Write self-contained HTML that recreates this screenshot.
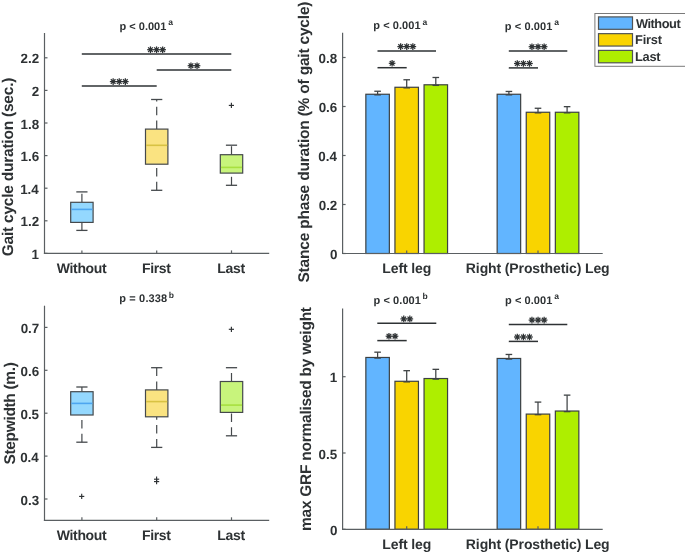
<!DOCTYPE html>
<html><head><meta charset="utf-8"><style>
html,body{margin:0;padding:0;background:#fff;width:685px;height:554px;overflow:hidden}
svg{display:block;will-change:transform}
text{font-family:"Liberation Sans", sans-serif;font-weight:bold;fill:#2e3234;text-rendering:geometricPrecision}
</style></head><body>
<svg width="685" height="554" viewBox="0 0 685 554">
<rect width="685" height="554" fill="#fff"/>
<line x1="81.9" y1="202.3" x2="81.9" y2="191.9" stroke="#45494c" stroke-width="1.2" stroke-dasharray="8.5,5.3"/>
<line x1="81.9" y1="230.4" x2="81.9" y2="222.4" stroke="#45494c" stroke-width="1.2" stroke-dasharray="8.5,5.3"/>
<line x1="76.3" y1="191.9" x2="87.5" y2="191.9" stroke="#45494c" stroke-width="1.3" />
<line x1="76.3" y1="230.4" x2="87.5" y2="230.4" stroke="#45494c" stroke-width="1.3" />
<rect x="70.7" y="202.3" width="22.4" height="20.1" fill="#94D8FE" stroke="#45494c" stroke-width="1.2"/>
<line x1="71.35" y1="209.4" x2="92.45" y2="209.4" stroke="#4DA6F0" stroke-width="1.6" />
<line x1="156.7" y1="129.1" x2="156.7" y2="99.5" stroke="#45494c" stroke-width="1.2" stroke-dasharray="8.5,5.3"/>
<line x1="156.7" y1="190.3" x2="156.7" y2="164.2" stroke="#45494c" stroke-width="1.2" stroke-dasharray="8.5,5.3"/>
<line x1="151.1" y1="99.5" x2="162.3" y2="99.5" stroke="#45494c" stroke-width="1.3" />
<line x1="151.1" y1="190.3" x2="162.3" y2="190.3" stroke="#45494c" stroke-width="1.3" />
<rect x="145.5" y="129.1" width="22.4" height="35.1" fill="#FAE381" stroke="#45494c" stroke-width="1.2"/>
<line x1="146.15" y1="145.3" x2="167.25" y2="145.3" stroke="#D8C243" stroke-width="1.6" />
<line x1="231.5" y1="154.7" x2="231.5" y2="145.2" stroke="#45494c" stroke-width="1.2" stroke-dasharray="8.5,5.3"/>
<line x1="231.5" y1="185.3" x2="231.5" y2="173.1" stroke="#45494c" stroke-width="1.2" stroke-dasharray="8.5,5.3"/>
<line x1="225.9" y1="145.2" x2="237.1" y2="145.2" stroke="#45494c" stroke-width="1.3" />
<line x1="225.9" y1="185.3" x2="237.1" y2="185.3" stroke="#45494c" stroke-width="1.3" />
<rect x="220.3" y="154.7" width="22.4" height="18.4" fill="#C8F47C" stroke="#45494c" stroke-width="1.2"/>
<line x1="220.95" y1="167.4" x2="242.05" y2="167.4" stroke="#A8E040" stroke-width="1.6" />
<line x1="228.8" y1="105.4" x2="234" y2="105.4" stroke="#2e3234" stroke-width="1.15" />
<line x1="231.4" y1="102.8" x2="231.4" y2="108" stroke="#2e3234" stroke-width="1.15" />
<line x1="44.5" y1="33" x2="44.5" y2="254" stroke="#5a5f62" stroke-width="1.2" />
<line x1="43.9" y1="253.4" x2="269.2" y2="253.4" stroke="#5a5f62" stroke-width="1.2" />
<line x1="44.5" y1="253.4" x2="47.5" y2="253.4" stroke="#5a5f62" stroke-width="1.2" />
<text x="31.62" y="259" font-size="13.4">1</text>
<line x1="44.5" y1="220.8" x2="47.5" y2="220.8" stroke="#5a5f62" stroke-width="1.2" />
<text x="20.61" y="226.4" font-size="13.4">1.2</text>
<line x1="44.5" y1="188.2" x2="47.5" y2="188.2" stroke="#5a5f62" stroke-width="1.2" />
<text x="20.14" y="193.8" font-size="13.4">1.4</text>
<line x1="44.5" y1="155.6" x2="47.5" y2="155.6" stroke="#5a5f62" stroke-width="1.2" />
<text x="20.56" y="161.2" font-size="13.4">1.6</text>
<line x1="44.5" y1="123" x2="47.5" y2="123" stroke="#5a5f62" stroke-width="1.2" />
<text x="20.48" y="128.6" font-size="13.4">1.8</text>
<line x1="44.5" y1="90.4" x2="47.5" y2="90.4" stroke="#5a5f62" stroke-width="1.2" />
<text x="31.78" y="96" font-size="13.4">2</text>
<line x1="44.5" y1="57.8" x2="47.5" y2="57.8" stroke="#5a5f62" stroke-width="1.2" />
<text x="20.61" y="63.4" font-size="13.4">2.2</text>
<line x1="81.9" y1="253.4" x2="81.9" y2="250.4" stroke="#5a5f62" stroke-width="1.2" />
<text x="56.69" y="272.7" font-size="14" letter-spacing="-0.316" >Without</text>
<line x1="156.7" y1="253.4" x2="156.7" y2="250.4" stroke="#5a5f62" stroke-width="1.2" />
<text x="141.96" y="272.7" font-size="14" letter-spacing="-0.333" >First</text>
<line x1="231.5" y1="253.4" x2="231.5" y2="250.4" stroke="#5a5f62" stroke-width="1.2" />
<text x="217.26" y="272.7" font-size="14" letter-spacing="-0.260" >Last</text>
<text x="-0.64" y="0" font-size="15.5" letter-spacing="-0.225" transform="translate(13,255.7) rotate(-90)">Gait cycle duration (sec.)</text>
<text x="119.57" y="29.9" font-size="11" letter-spacing="-0.006" >p &lt; 0.001</text>
<text x="168.25" y="25.2" font-size="8.5" >a</text>
<line x1="81.8" y1="54.1" x2="231.3" y2="54.1" stroke="#2e3234" stroke-width="1.5" />
<line x1="147.15" y1="49.7" x2="153.75" y2="49.7" stroke="#2e3234" stroke-width="1.25"/>
<line x1="148.12" y1="47.37" x2="152.78" y2="52.03" stroke="#2e3234" stroke-width="1.25"/>
<line x1="150.45" y1="46.4" x2="150.45" y2="53" stroke="#2e3234" stroke-width="1.25"/>
<line x1="152.78" y1="47.37" x2="148.12" y2="52.03" stroke="#2e3234" stroke-width="1.25"/>
<circle cx="150.45" cy="49.7" r="1.6" fill="#2e3234"/>
<line x1="153.25" y1="49.7" x2="159.85" y2="49.7" stroke="#2e3234" stroke-width="1.25"/>
<line x1="154.22" y1="47.37" x2="158.88" y2="52.03" stroke="#2e3234" stroke-width="1.25"/>
<line x1="156.55" y1="46.4" x2="156.55" y2="53" stroke="#2e3234" stroke-width="1.25"/>
<line x1="158.88" y1="47.37" x2="154.22" y2="52.03" stroke="#2e3234" stroke-width="1.25"/>
<circle cx="156.55" cy="49.7" r="1.6" fill="#2e3234"/>
<line x1="159.35" y1="49.7" x2="165.95" y2="49.7" stroke="#2e3234" stroke-width="1.25"/>
<line x1="160.32" y1="47.37" x2="164.98" y2="52.03" stroke="#2e3234" stroke-width="1.25"/>
<line x1="162.65" y1="46.4" x2="162.65" y2="53" stroke="#2e3234" stroke-width="1.25"/>
<line x1="164.98" y1="47.37" x2="160.32" y2="52.03" stroke="#2e3234" stroke-width="1.25"/>
<circle cx="162.65" cy="49.7" r="1.6" fill="#2e3234"/>
<line x1="156.7" y1="70.1" x2="231.3" y2="70.1" stroke="#2e3234" stroke-width="1.5" />
<line x1="187.65" y1="65.7" x2="194.25" y2="65.7" stroke="#2e3234" stroke-width="1.25"/>
<line x1="188.62" y1="63.37" x2="193.28" y2="68.03" stroke="#2e3234" stroke-width="1.25"/>
<line x1="190.95" y1="62.4" x2="190.95" y2="69" stroke="#2e3234" stroke-width="1.25"/>
<line x1="193.28" y1="63.37" x2="188.62" y2="68.03" stroke="#2e3234" stroke-width="1.25"/>
<circle cx="190.95" cy="65.7" r="1.6" fill="#2e3234"/>
<line x1="193.75" y1="65.7" x2="200.35" y2="65.7" stroke="#2e3234" stroke-width="1.25"/>
<line x1="194.72" y1="63.37" x2="199.38" y2="68.03" stroke="#2e3234" stroke-width="1.25"/>
<line x1="197.05" y1="62.4" x2="197.05" y2="69" stroke="#2e3234" stroke-width="1.25"/>
<line x1="199.38" y1="63.37" x2="194.72" y2="68.03" stroke="#2e3234" stroke-width="1.25"/>
<circle cx="197.05" cy="65.7" r="1.6" fill="#2e3234"/>
<line x1="81.8" y1="86" x2="156.7" y2="86" stroke="#2e3234" stroke-width="1.5" />
<line x1="109.85" y1="81.6" x2="116.45" y2="81.6" stroke="#2e3234" stroke-width="1.25"/>
<line x1="110.82" y1="79.27" x2="115.48" y2="83.93" stroke="#2e3234" stroke-width="1.25"/>
<line x1="113.15" y1="78.3" x2="113.15" y2="84.9" stroke="#2e3234" stroke-width="1.25"/>
<line x1="115.48" y1="79.27" x2="110.82" y2="83.93" stroke="#2e3234" stroke-width="1.25"/>
<circle cx="113.15" cy="81.6" r="1.6" fill="#2e3234"/>
<line x1="115.95" y1="81.6" x2="122.55" y2="81.6" stroke="#2e3234" stroke-width="1.25"/>
<line x1="116.92" y1="79.27" x2="121.58" y2="83.93" stroke="#2e3234" stroke-width="1.25"/>
<line x1="119.25" y1="78.3" x2="119.25" y2="84.9" stroke="#2e3234" stroke-width="1.25"/>
<line x1="121.58" y1="79.27" x2="116.92" y2="83.93" stroke="#2e3234" stroke-width="1.25"/>
<circle cx="119.25" cy="81.6" r="1.6" fill="#2e3234"/>
<line x1="122.05" y1="81.6" x2="128.65" y2="81.6" stroke="#2e3234" stroke-width="1.25"/>
<line x1="123.02" y1="79.27" x2="127.68" y2="83.93" stroke="#2e3234" stroke-width="1.25"/>
<line x1="125.35" y1="78.3" x2="125.35" y2="84.9" stroke="#2e3234" stroke-width="1.25"/>
<line x1="127.68" y1="79.27" x2="123.02" y2="83.93" stroke="#2e3234" stroke-width="1.25"/>
<circle cx="125.35" cy="81.6" r="1.6" fill="#2e3234"/>
<line x1="81.9" y1="391.7" x2="81.9" y2="387" stroke="#45494c" stroke-width="1.2" stroke-dasharray="8.5,5.3"/>
<line x1="81.9" y1="442.2" x2="81.9" y2="415" stroke="#45494c" stroke-width="1.2" stroke-dasharray="8.5,5.3"/>
<line x1="76.3" y1="387" x2="87.5" y2="387" stroke="#45494c" stroke-width="1.3" />
<line x1="76.3" y1="442.2" x2="87.5" y2="442.2" stroke="#45494c" stroke-width="1.3" />
<rect x="70.7" y="391.7" width="22.4" height="23.3" fill="#94D8FE" stroke="#45494c" stroke-width="1.2"/>
<line x1="71.35" y1="403.4" x2="92.45" y2="403.4" stroke="#4DA6F0" stroke-width="1.6" />
<line x1="156.7" y1="389.9" x2="156.7" y2="367.7" stroke="#45494c" stroke-width="1.2" stroke-dasharray="8.5,5.3"/>
<line x1="156.7" y1="447.4" x2="156.7" y2="416.8" stroke="#45494c" stroke-width="1.2" stroke-dasharray="8.5,5.3"/>
<line x1="151.1" y1="367.7" x2="162.3" y2="367.7" stroke="#45494c" stroke-width="1.3" />
<line x1="151.1" y1="447.4" x2="162.3" y2="447.4" stroke="#45494c" stroke-width="1.3" />
<rect x="145.5" y="389.9" width="22.4" height="26.9" fill="#FAE381" stroke="#45494c" stroke-width="1.2"/>
<line x1="146.15" y1="401.6" x2="167.25" y2="401.6" stroke="#D8C243" stroke-width="1.6" />
<line x1="231.5" y1="381.5" x2="231.5" y2="367.7" stroke="#45494c" stroke-width="1.2" stroke-dasharray="8.5,5.3"/>
<line x1="231.5" y1="435.8" x2="231.5" y2="412.4" stroke="#45494c" stroke-width="1.2" stroke-dasharray="8.5,5.3"/>
<line x1="225.9" y1="367.7" x2="237.1" y2="367.7" stroke="#45494c" stroke-width="1.3" />
<line x1="225.9" y1="435.8" x2="237.1" y2="435.8" stroke="#45494c" stroke-width="1.3" />
<rect x="220.3" y="381.5" width="22.4" height="30.9" fill="#C8F47C" stroke="#45494c" stroke-width="1.2"/>
<line x1="220.95" y1="405.1" x2="242.05" y2="405.1" stroke="#A8E040" stroke-width="1.6" />
<line x1="79.1" y1="496.4" x2="84.3" y2="496.4" stroke="#2e3234" stroke-width="1.15" />
<line x1="81.7" y1="493.8" x2="81.7" y2="499" stroke="#2e3234" stroke-width="1.15" />
<line x1="154" y1="479.2" x2="159.2" y2="479.2" stroke="#2e3234" stroke-width="1.15" />
<line x1="156.6" y1="476.6" x2="156.6" y2="481.8" stroke="#2e3234" stroke-width="1.15" />
<line x1="154" y1="481.6" x2="159.2" y2="481.6" stroke="#2e3234" stroke-width="1.15" />
<line x1="156.6" y1="479" x2="156.6" y2="484.2" stroke="#2e3234" stroke-width="1.15" />
<line x1="228.8" y1="329.3" x2="234" y2="329.3" stroke="#2e3234" stroke-width="1.15" />
<line x1="231.4" y1="326.7" x2="231.4" y2="331.9" stroke="#2e3234" stroke-width="1.15" />
<line x1="44.5" y1="305.7" x2="44.5" y2="520.9" stroke="#5a5f62" stroke-width="1.2" />
<line x1="43.9" y1="520.3" x2="269.2" y2="520.3" stroke="#5a5f62" stroke-width="1.2" />
<line x1="44.5" y1="499" x2="47.5" y2="499" stroke="#5a5f62" stroke-width="1.2" />
<text x="20.56" y="504.6" font-size="13.4">0.3</text>
<line x1="44.5" y1="456.1" x2="47.5" y2="456.1" stroke="#5a5f62" stroke-width="1.2" />
<text x="20.14" y="461.7" font-size="13.4">0.4</text>
<line x1="44.5" y1="413.2" x2="47.5" y2="413.2" stroke="#5a5f62" stroke-width="1.2" />
<text x="20.45" y="418.8" font-size="13.4">0.5</text>
<line x1="44.5" y1="370.3" x2="47.5" y2="370.3" stroke="#5a5f62" stroke-width="1.2" />
<text x="20.56" y="375.9" font-size="13.4">0.6</text>
<line x1="44.5" y1="327.4" x2="47.5" y2="327.4" stroke="#5a5f62" stroke-width="1.2" />
<text x="20.66" y="333" font-size="13.4">0.7</text>
<line x1="81.9" y1="520.3" x2="81.9" y2="517.3" stroke="#5a5f62" stroke-width="1.2" />
<text x="56.69" y="539.6" font-size="14" letter-spacing="-0.316" >Without</text>
<line x1="156.7" y1="520.3" x2="156.7" y2="517.3" stroke="#5a5f62" stroke-width="1.2" />
<text x="141.96" y="539.6" font-size="14" letter-spacing="-0.333" >First</text>
<line x1="231.5" y1="520.3" x2="231.5" y2="517.3" stroke="#5a5f62" stroke-width="1.2" />
<text x="217.26" y="539.6" font-size="14" letter-spacing="-0.260" >Last</text>
<text x="-0.45" y="0" font-size="15.5" letter-spacing="-0.334" transform="translate(15,464.1) rotate(-90)">Stepwidth (m.)</text>
<text x="119.27" y="302.4" font-size="11" letter-spacing="0.148" >p = 0.338</text>
<text x="168.84" y="297.7" font-size="8.5" >b</text>
<rect x="365.85" y="94.25" width="23.5" height="159.25" fill="#62B5FF" stroke="#3c4042" stroke-width="1.2"/>
<rect x="394.95" y="87.27" width="23.5" height="166.23" fill="#F9D400" stroke="#3c4042" stroke-width="1.2"/>
<rect x="424.05" y="84.79" width="23.5" height="168.71" fill="#AEEE00" stroke="#3c4042" stroke-width="1.2"/>
<rect x="497.15" y="94.25" width="23.5" height="159.25" fill="#62B5FF" stroke="#3c4042" stroke-width="1.2"/>
<rect x="526.25" y="112.26" width="23.5" height="141.24" fill="#F9D400" stroke="#3c4042" stroke-width="1.2"/>
<rect x="555.35" y="112.26" width="23.5" height="141.24" fill="#AEEE00" stroke="#3c4042" stroke-width="1.2"/>
<line x1="377.6" y1="91.25" x2="377.6" y2="94.25" stroke="#3f4345" stroke-width="1.25" />
<line x1="374.3" y1="91.25" x2="380.9" y2="91.25" stroke="#3f4345" stroke-width="1.3" />
<line x1="374.3" y1="94.85" x2="380.9" y2="94.85" stroke="#3f4345" stroke-width="1.3" />
<line x1="406.7" y1="79.77" x2="406.7" y2="87.27" stroke="#3f4345" stroke-width="1.25" />
<line x1="403.4" y1="79.77" x2="410" y2="79.77" stroke="#3f4345" stroke-width="1.3" />
<line x1="403.4" y1="87.87" x2="410" y2="87.87" stroke="#3f4345" stroke-width="1.3" />
<line x1="435.8" y1="77.49" x2="435.8" y2="84.79" stroke="#3f4345" stroke-width="1.25" />
<line x1="432.5" y1="77.49" x2="439.1" y2="77.49" stroke="#3f4345" stroke-width="1.3" />
<line x1="432.5" y1="85.39" x2="439.1" y2="85.39" stroke="#3f4345" stroke-width="1.3" />
<line x1="508.9" y1="91.45" x2="508.9" y2="94.25" stroke="#3f4345" stroke-width="1.25" />
<line x1="505.6" y1="91.45" x2="512.2" y2="91.45" stroke="#3f4345" stroke-width="1.3" />
<line x1="505.6" y1="94.85" x2="512.2" y2="94.85" stroke="#3f4345" stroke-width="1.3" />
<line x1="538" y1="108.26" x2="538" y2="112.26" stroke="#3f4345" stroke-width="1.25" />
<line x1="534.7" y1="108.26" x2="541.3" y2="108.26" stroke="#3f4345" stroke-width="1.3" />
<line x1="534.7" y1="112.86" x2="541.3" y2="112.86" stroke="#3f4345" stroke-width="1.3" />
<line x1="567.1" y1="106.66" x2="567.1" y2="112.26" stroke="#3f4345" stroke-width="1.25" />
<line x1="563.8" y1="106.66" x2="570.4" y2="106.66" stroke="#3f4345" stroke-width="1.3" />
<line x1="563.8" y1="112.86" x2="570.4" y2="112.86" stroke="#3f4345" stroke-width="1.3" />
<line x1="342.6" y1="32.8" x2="342.6" y2="254.1" stroke="#5a5f62" stroke-width="1.2" />
<line x1="342" y1="253.5" x2="602.7" y2="253.5" stroke="#5a5f62" stroke-width="1.2" />
<line x1="342.6" y1="253.5" x2="345.6" y2="253.5" stroke="#5a5f62" stroke-width="1.2" />
<text x="329.9" y="259.1" font-size="13.4">0</text>
<line x1="342.6" y1="204.5" x2="345.6" y2="204.5" stroke="#5a5f62" stroke-width="1.2" />
<text x="318.71" y="210.1" font-size="13.4">0.2</text>
<line x1="342.6" y1="155.5" x2="345.6" y2="155.5" stroke="#5a5f62" stroke-width="1.2" />
<text x="318.24" y="161.1" font-size="13.4">0.4</text>
<line x1="342.6" y1="106.5" x2="345.6" y2="106.5" stroke="#5a5f62" stroke-width="1.2" />
<text x="318.66" y="112.1" font-size="13.4">0.6</text>
<line x1="342.6" y1="57.5" x2="345.6" y2="57.5" stroke="#5a5f62" stroke-width="1.2" />
<text x="318.58" y="63.1" font-size="13.4">0.8</text>
<line x1="406.7" y1="253.5" x2="406.7" y2="250.5" stroke="#5a5f62" stroke-width="1.2" />
<text x="382.36" y="272.8" font-size="14" letter-spacing="-0.115" >Left leg</text>
<line x1="538" y1="253.5" x2="538" y2="250.5" stroke="#5a5f62" stroke-width="1.2" />
<text x="465.86" y="272.8" font-size="14" letter-spacing="-0.117" >Right (Prosthetic) Leg</text>
<text x="-0.45" y="0" font-size="15.5" letter-spacing="-0.198" transform="translate(309.3,282.1) rotate(-90)">Stance phase duration (% of gait cycle)</text>
<text x="373.27" y="29.3" font-size="11" letter-spacing="0.069" >p &lt; 0.001</text>
<text x="422.55" y="24.6" font-size="8.5" >a</text>
<text x="504.87" y="29.5" font-size="11" letter-spacing="0.081" >p &lt; 0.001</text>
<text x="554.25" y="24.8" font-size="8.5" >a</text>
<line x1="377.5" y1="51" x2="436" y2="51" stroke="#2e3234" stroke-width="1.5" />
<line x1="397.35" y1="46.6" x2="403.95" y2="46.6" stroke="#2e3234" stroke-width="1.25"/>
<line x1="398.32" y1="44.27" x2="402.98" y2="48.93" stroke="#2e3234" stroke-width="1.25"/>
<line x1="400.65" y1="43.3" x2="400.65" y2="49.9" stroke="#2e3234" stroke-width="1.25"/>
<line x1="402.98" y1="44.27" x2="398.32" y2="48.93" stroke="#2e3234" stroke-width="1.25"/>
<circle cx="400.65" cy="46.6" r="1.6" fill="#2e3234"/>
<line x1="403.45" y1="46.6" x2="410.05" y2="46.6" stroke="#2e3234" stroke-width="1.25"/>
<line x1="404.42" y1="44.27" x2="409.08" y2="48.93" stroke="#2e3234" stroke-width="1.25"/>
<line x1="406.75" y1="43.3" x2="406.75" y2="49.9" stroke="#2e3234" stroke-width="1.25"/>
<line x1="409.08" y1="44.27" x2="404.42" y2="48.93" stroke="#2e3234" stroke-width="1.25"/>
<circle cx="406.75" cy="46.6" r="1.6" fill="#2e3234"/>
<line x1="409.55" y1="46.6" x2="416.15" y2="46.6" stroke="#2e3234" stroke-width="1.25"/>
<line x1="410.52" y1="44.27" x2="415.18" y2="48.93" stroke="#2e3234" stroke-width="1.25"/>
<line x1="412.85" y1="43.3" x2="412.85" y2="49.9" stroke="#2e3234" stroke-width="1.25"/>
<line x1="415.18" y1="44.27" x2="410.52" y2="48.93" stroke="#2e3234" stroke-width="1.25"/>
<circle cx="412.85" cy="46.6" r="1.6" fill="#2e3234"/>
<line x1="377.5" y1="67.7" x2="406.7" y2="67.7" stroke="#2e3234" stroke-width="1.5" />
<line x1="388.8" y1="63.3" x2="395.4" y2="63.3" stroke="#2e3234" stroke-width="1.25"/>
<line x1="389.77" y1="60.97" x2="394.43" y2="65.63" stroke="#2e3234" stroke-width="1.25"/>
<line x1="392.1" y1="60" x2="392.1" y2="66.6" stroke="#2e3234" stroke-width="1.25"/>
<line x1="394.43" y1="60.97" x2="389.77" y2="65.63" stroke="#2e3234" stroke-width="1.25"/>
<circle cx="392.1" cy="63.3" r="1.6" fill="#2e3234"/>
<line x1="508.8" y1="51.1" x2="567.3" y2="51.1" stroke="#2e3234" stroke-width="1.5" />
<line x1="528.65" y1="46.7" x2="535.25" y2="46.7" stroke="#2e3234" stroke-width="1.25"/>
<line x1="529.62" y1="44.37" x2="534.28" y2="49.03" stroke="#2e3234" stroke-width="1.25"/>
<line x1="531.95" y1="43.4" x2="531.95" y2="50" stroke="#2e3234" stroke-width="1.25"/>
<line x1="534.28" y1="44.37" x2="529.62" y2="49.03" stroke="#2e3234" stroke-width="1.25"/>
<circle cx="531.95" cy="46.7" r="1.6" fill="#2e3234"/>
<line x1="534.75" y1="46.7" x2="541.35" y2="46.7" stroke="#2e3234" stroke-width="1.25"/>
<line x1="535.72" y1="44.37" x2="540.38" y2="49.03" stroke="#2e3234" stroke-width="1.25"/>
<line x1="538.05" y1="43.4" x2="538.05" y2="50" stroke="#2e3234" stroke-width="1.25"/>
<line x1="540.38" y1="44.37" x2="535.72" y2="49.03" stroke="#2e3234" stroke-width="1.25"/>
<circle cx="538.05" cy="46.7" r="1.6" fill="#2e3234"/>
<line x1="540.85" y1="46.7" x2="547.45" y2="46.7" stroke="#2e3234" stroke-width="1.25"/>
<line x1="541.82" y1="44.37" x2="546.48" y2="49.03" stroke="#2e3234" stroke-width="1.25"/>
<line x1="544.15" y1="43.4" x2="544.15" y2="50" stroke="#2e3234" stroke-width="1.25"/>
<line x1="546.48" y1="44.37" x2="541.82" y2="49.03" stroke="#2e3234" stroke-width="1.25"/>
<circle cx="544.15" cy="46.7" r="1.6" fill="#2e3234"/>
<line x1="508.8" y1="67.9" x2="538" y2="67.9" stroke="#2e3234" stroke-width="1.5" />
<line x1="514" y1="63.5" x2="520.6" y2="63.5" stroke="#2e3234" stroke-width="1.25"/>
<line x1="514.97" y1="61.17" x2="519.63" y2="65.83" stroke="#2e3234" stroke-width="1.25"/>
<line x1="517.3" y1="60.2" x2="517.3" y2="66.8" stroke="#2e3234" stroke-width="1.25"/>
<line x1="519.63" y1="61.17" x2="514.97" y2="65.83" stroke="#2e3234" stroke-width="1.25"/>
<circle cx="517.3" cy="63.5" r="1.6" fill="#2e3234"/>
<line x1="520.1" y1="63.5" x2="526.7" y2="63.5" stroke="#2e3234" stroke-width="1.25"/>
<line x1="521.07" y1="61.17" x2="525.73" y2="65.83" stroke="#2e3234" stroke-width="1.25"/>
<line x1="523.4" y1="60.2" x2="523.4" y2="66.8" stroke="#2e3234" stroke-width="1.25"/>
<line x1="525.73" y1="61.17" x2="521.07" y2="65.83" stroke="#2e3234" stroke-width="1.25"/>
<circle cx="523.4" cy="63.5" r="1.6" fill="#2e3234"/>
<line x1="526.2" y1="63.5" x2="532.8" y2="63.5" stroke="#2e3234" stroke-width="1.25"/>
<line x1="527.17" y1="61.17" x2="531.83" y2="65.83" stroke="#2e3234" stroke-width="1.25"/>
<line x1="529.5" y1="60.2" x2="529.5" y2="66.8" stroke="#2e3234" stroke-width="1.25"/>
<line x1="531.83" y1="61.17" x2="527.17" y2="65.83" stroke="#2e3234" stroke-width="1.25"/>
<circle cx="529.5" cy="63.5" r="1.6" fill="#2e3234"/>
<rect x="365.85" y="357.47" width="23.5" height="171.83" fill="#62B5FF" stroke="#3c4042" stroke-width="1.2"/>
<rect x="394.95" y="381.28" width="23.5" height="148.02" fill="#F9D400" stroke="#3c4042" stroke-width="1.2"/>
<rect x="424.05" y="378.53" width="23.5" height="150.77" fill="#AEEE00" stroke="#3c4042" stroke-width="1.2"/>
<rect x="497.15" y="358.46" width="23.5" height="170.84" fill="#62B5FF" stroke="#3c4042" stroke-width="1.2"/>
<rect x="526.25" y="414.09" width="23.5" height="115.21" fill="#F9D400" stroke="#3c4042" stroke-width="1.2"/>
<rect x="555.35" y="411.03" width="23.5" height="118.26" fill="#AEEE00" stroke="#3c4042" stroke-width="1.2"/>
<line x1="377.6" y1="352.17" x2="377.6" y2="357.47" stroke="#3f4345" stroke-width="1.25" />
<line x1="374.3" y1="352.17" x2="380.9" y2="352.17" stroke="#3f4345" stroke-width="1.3" />
<line x1="374.3" y1="358.07" x2="380.9" y2="358.07" stroke="#3f4345" stroke-width="1.3" />
<line x1="406.7" y1="370.68" x2="406.7" y2="381.28" stroke="#3f4345" stroke-width="1.25" />
<line x1="403.4" y1="370.68" x2="410" y2="370.68" stroke="#3f4345" stroke-width="1.3" />
<line x1="403.4" y1="381.88" x2="410" y2="381.88" stroke="#3f4345" stroke-width="1.3" />
<line x1="435.8" y1="369.33" x2="435.8" y2="378.53" stroke="#3f4345" stroke-width="1.25" />
<line x1="432.5" y1="369.33" x2="439.1" y2="369.33" stroke="#3f4345" stroke-width="1.3" />
<line x1="432.5" y1="379.13" x2="439.1" y2="379.13" stroke="#3f4345" stroke-width="1.3" />
<line x1="508.9" y1="354.46" x2="508.9" y2="358.46" stroke="#3f4345" stroke-width="1.25" />
<line x1="505.6" y1="354.46" x2="512.2" y2="354.46" stroke="#3f4345" stroke-width="1.3" />
<line x1="505.6" y1="359.06" x2="512.2" y2="359.06" stroke="#3f4345" stroke-width="1.3" />
<line x1="538" y1="402.09" x2="538" y2="414.09" stroke="#3f4345" stroke-width="1.25" />
<line x1="534.7" y1="402.09" x2="541.3" y2="402.09" stroke="#3f4345" stroke-width="1.3" />
<line x1="534.7" y1="414.69" x2="541.3" y2="414.69" stroke="#3f4345" stroke-width="1.3" />
<line x1="567.1" y1="395.13" x2="567.1" y2="411.03" stroke="#3f4345" stroke-width="1.25" />
<line x1="563.8" y1="395.13" x2="570.4" y2="395.13" stroke="#3f4345" stroke-width="1.3" />
<line x1="563.8" y1="411.63" x2="570.4" y2="411.63" stroke="#3f4345" stroke-width="1.3" />
<line x1="342.6" y1="308.5" x2="342.6" y2="529.9" stroke="#5a5f62" stroke-width="1.2" />
<line x1="342" y1="529.3" x2="602.7" y2="529.3" stroke="#5a5f62" stroke-width="1.2" />
<line x1="342.6" y1="529.3" x2="345.6" y2="529.3" stroke="#5a5f62" stroke-width="1.2" />
<text x="329.9" y="534.9" font-size="13.4">0</text>
<line x1="342.6" y1="453" x2="345.6" y2="453" stroke="#5a5f62" stroke-width="1.2" />
<text x="318.55" y="458.6" font-size="13.4">0.5</text>
<line x1="342.6" y1="376.7" x2="345.6" y2="376.7" stroke="#5a5f62" stroke-width="1.2" />
<text x="329.72" y="382.3" font-size="13.4">1</text>
<line x1="406.7" y1="529.3" x2="406.7" y2="526.3" stroke="#5a5f62" stroke-width="1.2" />
<text x="382.36" y="548.6" font-size="14" letter-spacing="-0.115" >Left leg</text>
<line x1="538" y1="529.3" x2="538" y2="526.3" stroke="#5a5f62" stroke-width="1.2" />
<text x="465.86" y="548.6" font-size="14" letter-spacing="-0.117" >Right (Prosthetic) Leg</text>
<text x="-1.02" y="0" font-size="15.5" letter-spacing="-0.252" transform="translate(310.8,530) rotate(-90)">max GRF normalised by weight</text>
<text x="373.47" y="304" font-size="11" letter-spacing="0.081" >p &lt; 0.001</text>
<text x="422.54" y="299.3" font-size="8.5" >b</text>
<text x="505.07" y="303.6" font-size="11" letter-spacing="0.056" >p &lt; 0.001</text>
<text x="554.25" y="298.9" font-size="8.5" >a</text>
<line x1="377.3" y1="323.3" x2="436.3" y2="323.3" stroke="#2e3234" stroke-width="1.5" />
<line x1="400.45" y1="318.9" x2="407.05" y2="318.9" stroke="#2e3234" stroke-width="1.25"/>
<line x1="401.42" y1="316.57" x2="406.08" y2="321.23" stroke="#2e3234" stroke-width="1.25"/>
<line x1="403.75" y1="315.6" x2="403.75" y2="322.2" stroke="#2e3234" stroke-width="1.25"/>
<line x1="406.08" y1="316.57" x2="401.42" y2="321.23" stroke="#2e3234" stroke-width="1.25"/>
<circle cx="403.75" cy="318.9" r="1.6" fill="#2e3234"/>
<line x1="406.55" y1="318.9" x2="413.15" y2="318.9" stroke="#2e3234" stroke-width="1.25"/>
<line x1="407.52" y1="316.57" x2="412.18" y2="321.23" stroke="#2e3234" stroke-width="1.25"/>
<line x1="409.85" y1="315.6" x2="409.85" y2="322.2" stroke="#2e3234" stroke-width="1.25"/>
<line x1="412.18" y1="316.57" x2="407.52" y2="321.23" stroke="#2e3234" stroke-width="1.25"/>
<circle cx="409.85" cy="318.9" r="1.6" fill="#2e3234"/>
<line x1="377.3" y1="340.6" x2="406.7" y2="340.6" stroke="#2e3234" stroke-width="1.5" />
<line x1="385.65" y1="336.2" x2="392.25" y2="336.2" stroke="#2e3234" stroke-width="1.25"/>
<line x1="386.62" y1="333.87" x2="391.28" y2="338.53" stroke="#2e3234" stroke-width="1.25"/>
<line x1="388.95" y1="332.9" x2="388.95" y2="339.5" stroke="#2e3234" stroke-width="1.25"/>
<line x1="391.28" y1="333.87" x2="386.62" y2="338.53" stroke="#2e3234" stroke-width="1.25"/>
<circle cx="388.95" cy="336.2" r="1.6" fill="#2e3234"/>
<line x1="391.75" y1="336.2" x2="398.35" y2="336.2" stroke="#2e3234" stroke-width="1.25"/>
<line x1="392.72" y1="333.87" x2="397.38" y2="338.53" stroke="#2e3234" stroke-width="1.25"/>
<line x1="395.05" y1="332.9" x2="395.05" y2="339.5" stroke="#2e3234" stroke-width="1.25"/>
<line x1="397.38" y1="333.87" x2="392.72" y2="338.53" stroke="#2e3234" stroke-width="1.25"/>
<circle cx="395.05" cy="336.2" r="1.6" fill="#2e3234"/>
<line x1="508.8" y1="324.5" x2="567.3" y2="324.5" stroke="#2e3234" stroke-width="1.5" />
<line x1="528.65" y1="320.1" x2="535.25" y2="320.1" stroke="#2e3234" stroke-width="1.25"/>
<line x1="529.62" y1="317.77" x2="534.28" y2="322.43" stroke="#2e3234" stroke-width="1.25"/>
<line x1="531.95" y1="316.8" x2="531.95" y2="323.4" stroke="#2e3234" stroke-width="1.25"/>
<line x1="534.28" y1="317.77" x2="529.62" y2="322.43" stroke="#2e3234" stroke-width="1.25"/>
<circle cx="531.95" cy="320.1" r="1.6" fill="#2e3234"/>
<line x1="534.75" y1="320.1" x2="541.35" y2="320.1" stroke="#2e3234" stroke-width="1.25"/>
<line x1="535.72" y1="317.77" x2="540.38" y2="322.43" stroke="#2e3234" stroke-width="1.25"/>
<line x1="538.05" y1="316.8" x2="538.05" y2="323.4" stroke="#2e3234" stroke-width="1.25"/>
<line x1="540.38" y1="317.77" x2="535.72" y2="322.43" stroke="#2e3234" stroke-width="1.25"/>
<circle cx="538.05" cy="320.1" r="1.6" fill="#2e3234"/>
<line x1="540.85" y1="320.1" x2="547.45" y2="320.1" stroke="#2e3234" stroke-width="1.25"/>
<line x1="541.82" y1="317.77" x2="546.48" y2="322.43" stroke="#2e3234" stroke-width="1.25"/>
<line x1="544.15" y1="316.8" x2="544.15" y2="323.4" stroke="#2e3234" stroke-width="1.25"/>
<line x1="546.48" y1="317.77" x2="541.82" y2="322.43" stroke="#2e3234" stroke-width="1.25"/>
<circle cx="544.15" cy="320.1" r="1.6" fill="#2e3234"/>
<line x1="508.8" y1="341.4" x2="538" y2="341.4" stroke="#2e3234" stroke-width="1.5" />
<line x1="514" y1="337" x2="520.6" y2="337" stroke="#2e3234" stroke-width="1.25"/>
<line x1="514.97" y1="334.67" x2="519.63" y2="339.33" stroke="#2e3234" stroke-width="1.25"/>
<line x1="517.3" y1="333.7" x2="517.3" y2="340.3" stroke="#2e3234" stroke-width="1.25"/>
<line x1="519.63" y1="334.67" x2="514.97" y2="339.33" stroke="#2e3234" stroke-width="1.25"/>
<circle cx="517.3" cy="337" r="1.6" fill="#2e3234"/>
<line x1="520.1" y1="337" x2="526.7" y2="337" stroke="#2e3234" stroke-width="1.25"/>
<line x1="521.07" y1="334.67" x2="525.73" y2="339.33" stroke="#2e3234" stroke-width="1.25"/>
<line x1="523.4" y1="333.7" x2="523.4" y2="340.3" stroke="#2e3234" stroke-width="1.25"/>
<line x1="525.73" y1="334.67" x2="521.07" y2="339.33" stroke="#2e3234" stroke-width="1.25"/>
<circle cx="523.4" cy="337" r="1.6" fill="#2e3234"/>
<line x1="526.2" y1="337" x2="532.8" y2="337" stroke="#2e3234" stroke-width="1.25"/>
<line x1="527.17" y1="334.67" x2="531.83" y2="339.33" stroke="#2e3234" stroke-width="1.25"/>
<line x1="529.5" y1="333.7" x2="529.5" y2="340.3" stroke="#2e3234" stroke-width="1.25"/>
<line x1="531.83" y1="334.67" x2="527.17" y2="339.33" stroke="#2e3234" stroke-width="1.25"/>
<circle cx="529.5" cy="337" r="1.6" fill="#2e3234"/>
<rect x="594.9" y="13.5" width="100" height="52.8" fill="#fff" stroke="#7a7a7a" stroke-width="1"/>
<rect x="598.5" y="16.9" width="34" height="12.4" fill="#62B5FF" stroke="#505456" stroke-width="1.2"/>
<text x="635.89" y="27.7" font-size="12.8" letter-spacing="-0.442" >Without</text>
<rect x="598.5" y="33.65" width="34" height="12.4" fill="#F9D400" stroke="#505456" stroke-width="1.2"/>
<text x="635.04" y="44.45" font-size="12.8" letter-spacing="-0.206" >First</text>
<rect x="598.5" y="50.4" width="34" height="12.4" fill="#AEEE00" stroke="#505456" stroke-width="1.2"/>
<text x="635.04" y="61.2" font-size="12.8" letter-spacing="-0.269" >Last</text>
</svg>
</body></html>
